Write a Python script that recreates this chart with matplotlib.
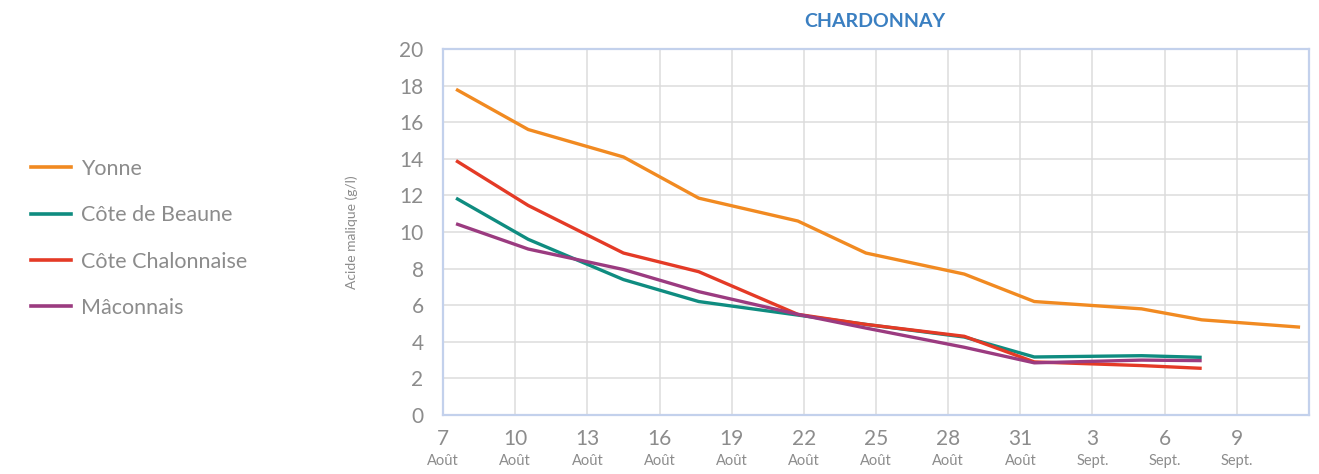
import numpy as np
import matplotlib.pyplot as plt
from matplotlib.lines import Line2D

plt.rcParams['font.family'] = ['Lato', 'DejaVu Sans']

# sample dates as day number counted from 1 August (Sept 3 = 34)
days = [7.54, 10.54, 14.5, 17.63, 21.75, 24.58, 28.67, 31.58, 36.04, 38.54, 42.63]

yonne = [17.8, 15.6, 14.1, 11.85, 10.6, 8.85, 7.7, 6.2, 5.8, 5.2, 4.8]
beaune = [11.85, 9.6, 7.4, 6.2, 5.46, 4.95, 4.26, 3.17, 3.24, 3.15]
chalon = [13.9, 11.45, 8.85, 7.83, 5.5, 4.95, 4.3, 2.9, 2.7, 2.55]
maconnais = [10.45, 9.07, 7.95, 6.74, 5.5, 4.75, 3.7, 2.85, 3.0, 2.97]

series = ["Yonne", "Côte de Beaune", "Côte Chalonnaise", "Mâconnais"]
colors = ["#f18a21", "#0f8c80", "#e43a26", "#9b3b80"]

tick_days = [7, 10, 13, 16, 19, 22, 25, 28, 31, 34, 37, 40]
tick_nums = ["7", "10", "13", "16", "19", "22", "25", "28", "31", "3", "6", "9"]
tick_months = ["Août"] * 9 + ["Sept."] * 3

grey = "#8c8c8c"

fig = plt.figure(figsize=(13.19, 4.74), dpi=100)
ax = fig.add_axes([0.3359, 0.1245, 0.6565, 0.7721])

values = [yonne, beaune, chalon, maconnais]
for name, vals, c in zip(series, values, colors):
    ax.plot(days[:len(vals)], vals, color=c, lw=2.4, solid_capstyle='butt',
            solid_joinstyle='round', label=name)

ax.set_xlim(7, 43)
ax.set_ylim(0, 20)
ax.set_yticks(np.arange(0, 21, 2))
ax.set_xticks(tick_days)
ax.set_xticklabels(tick_nums)
ax.grid(True, color="#dcdcdc", lw=1.1)
ax.set_axisbelow(True)
ax.tick_params(length=0, labelsize=15, labelcolor=grey)
ax.tick_params(axis='y', pad=14)
ax.tick_params(axis='x', pad=10)
for s in ax.spines.values():
    s.set_color("#c3d1ec")
    s.set_linewidth(1.6)

for d, m in zip(tick_days, tick_months):
    ax.text(d, -0.125, m, transform=ax.get_xaxis_transform(), ha='center',
            va='center', fontsize=10.5, color=grey)

ax.set_ylabel("Acide malique (g/l)", fontsize=10, color=grey, labelpad=30)

fig.text(0.663, 0.955, "CHARDONNAY", ha='center', va='center', fontsize=14,
         fontweight='bold', color="#3a7fc1")

handles = [Line2D([], [], color=c, lw=2.6) for c in colors]
leg = fig.legend(handles, series, loc='center left', bbox_to_anchor=(0.009, 0.497),
                 frameon=False, fontsize=15.5, labelcolor=grey, handlelength=1.85,
                 handletextpad=0.45, labelspacing=1.22)

fig.savefig("out.png", dpi=100)
